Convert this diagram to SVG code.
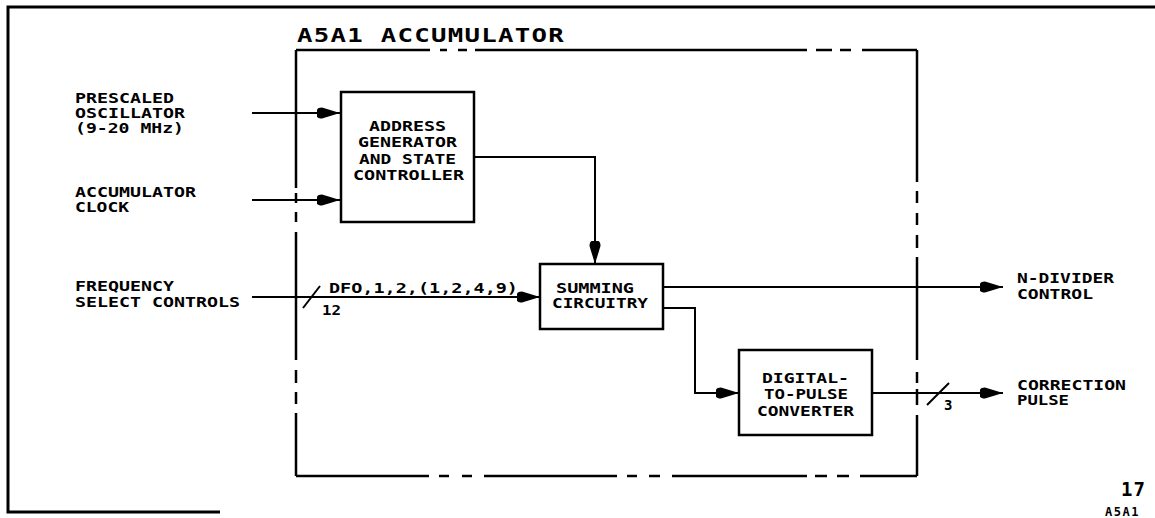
<svg xmlns="http://www.w3.org/2000/svg" width="1155" height="518" viewBox="0 0 1155 518">
<style>
  .lbl { font-family: "DejaVu Sans Mono", "Liberation Mono", monospace; font-size: 14px; font-weight: bold; letter-spacing: 0px; fill: #000; }
  .title { font-family: "DejaVu Sans Mono", "Liberation Mono", monospace; font-size: 20px; font-weight: bold; letter-spacing: 1px; fill: #000; }
  .box { fill: #fff; stroke: #000; stroke-width: 2.5; }
  .wire { fill: none; stroke: #000; stroke-width: 2; }
  .frame { fill: none; stroke: #000; stroke-width: 3; }
  .bound { fill: none; stroke: #000; stroke-width: 2.5; }
</style>
<defs>
  <marker id="arr" viewBox="-1 -7 25 14" refX="23" refY="0" markerWidth="25" markerHeight="14" markerUnits="userSpaceOnUse" orient="auto">
    <path d="M0,-3.5 Q1,-5.5 5,-5.5 L23,0 L5,5.5 Q1,5.5 0,3.5 Z" fill="#000"/>
  </marker>
</defs>
<rect width="1155" height="518" fill="#fff"/>

<g id="frame">
  <path class="frame" d="M1155,7 L8,7 L8,512 L220,512"/>
</g>

<g id="accumulator-boundary">
  <path class="bound" d="M296,50 H430 M440,50 H447 M458,50 H467 M475,50 H807 M816,50 H832 M840,50 H851 M862,50 H917
    M917,50 V182 M917,191 V203 M917,213 V225 M917,235 V248 M917,257 V360 M917,372 V383 M917,389 V405 M917,415 V476
    M296,476 H429 M439,476 H449 M462,476 H472 M484,476 H617 M627,476 H637 M649,476 H660 M672,476 H807 M815,476 H827 M837,476 H849 M860,476 H917
    M296,50 V188 M296,193 V203 M296,212 V222 M296,232 V360 M296,370 V383 M296,392 V404 M296,413 V476"/>
  <text class="title" x="297" y="42" textLength="268" lengthAdjust="spacingAndGlyphs">A5A1 ACCUMULATOR</text>
</g>

<g id="connectors">
  <path class="wire" d="M252,113 H340" marker-end="url(#arr)"/>
  <path class="wire" d="M252,200 H340" marker-end="url(#arr)"/>
  <path class="wire" d="M474,157 H595 V264" marker-end="url(#arr)"/>
  <path class="wire" d="M252,297 H540" marker-end="url(#arr)"/>
  <path class="wire" d="M663,287 H1003" marker-end="url(#arr)"/>
  <path class="wire" d="M663,308 H695 V393 H739" marker-end="url(#arr)"/>
  <path class="wire" d="M872,393 H1003" marker-end="url(#arr)"/>
  <path class="wire" d="M303,308 L320,286"/>
  <path class="wire" d="M927,405 L949,383"/>
  <text class="lbl" x="329" y="293" textLength="189" lengthAdjust="spacingAndGlyphs">DFO,1,2,(1,2,4,9)</text>
  <text class="lbl" x="322" y="315" textLength="19" lengthAdjust="spacingAndGlyphs">12</text>
  <text class="lbl" x="944" y="410">3</text>
</g>

<g id="in-prescaled">
  <text class="lbl" x="75" y="103" textLength="99" lengthAdjust="spacingAndGlyphs">PRESCALED</text>
  <text class="lbl" x="75" y="118" textLength="110" lengthAdjust="spacingAndGlyphs">OSCILLATOR</text>
  <text class="lbl" x="75" y="133" textLength="109" lengthAdjust="spacingAndGlyphs">(9-20 MHz)</text>
</g>
<g id="in-clock">
  <text class="lbl" x="75" y="196.5" textLength="121" lengthAdjust="spacingAndGlyphs">ACCUMULATOR</text>
  <text class="lbl" x="75" y="211.5" textLength="54" lengthAdjust="spacingAndGlyphs">CLOCK</text>
</g>
<g id="in-freq">
  <text class="lbl" x="75" y="291" textLength="99" lengthAdjust="spacingAndGlyphs">FREQUENCY</text>
  <text class="lbl" x="75" y="307" textLength="165" lengthAdjust="spacingAndGlyphs">SELECT CONTROLS</text>
</g>

<g id="address-generator">
  <rect class="box" x="341" y="92" width="133" height="130"/>
  <text class="lbl" x="369" y="131" textLength="77" lengthAdjust="spacingAndGlyphs">ADDRESS</text>
  <text class="lbl" x="358" y="147" textLength="99" lengthAdjust="spacingAndGlyphs">GENERATOR</text>
  <text class="lbl" x="359" y="163.5" textLength="97" lengthAdjust="spacingAndGlyphs">AND STATE</text>
  <text class="lbl" x="353" y="179.5" textLength="111" lengthAdjust="spacingAndGlyphs">CONTROLLER</text>
</g>

<g id="summing">
  <rect class="box" x="540" y="264" width="123" height="65"/>
  <text class="lbl" x="556" y="293" textLength="78" lengthAdjust="spacingAndGlyphs">SUMMING</text>
  <text class="lbl" x="552" y="308" textLength="96" lengthAdjust="spacingAndGlyphs">CIRCUITRY</text>
</g>

<g id="digital-to-pulse">
  <rect class="box" x="739" y="350" width="133" height="85"/>
  <text class="lbl" x="762" y="383" textLength="87" lengthAdjust="spacingAndGlyphs">DIGITAL-</text>
  <text class="lbl" x="764" y="399" textLength="84" lengthAdjust="spacingAndGlyphs">TO-PULSE</text>
  <text class="lbl" x="757" y="415.5" textLength="97" lengthAdjust="spacingAndGlyphs">CONVERTER</text>
</g>

<g id="out-ndivider">
  <text class="lbl" x="1017" y="283" textLength="97" lengthAdjust="spacingAndGlyphs">N-DIVIDER</text>
  <text class="lbl" x="1017" y="299" textLength="76" lengthAdjust="spacingAndGlyphs">CONTROL</text>
</g>
<g id="out-correction">
  <text class="lbl" x="1017" y="390" textLength="109" lengthAdjust="spacingAndGlyphs">CORRECTION</text>
  <text class="lbl" x="1017" y="405" textLength="52" lengthAdjust="spacingAndGlyphs">PULSE</text>
</g>

<g id="figure-id">
  <text x="1121" y="496" style="font-family:'DejaVu Sans Mono',monospace;font-size:19px;font-weight:bold;letter-spacing:1px;">17</text>
  <text x="1105" y="516" style="font-family:'DejaVu Sans Mono',monospace;font-size:12px;font-weight:bold;letter-spacing:1.5px;">A5A1</text>
</g>
</svg>
